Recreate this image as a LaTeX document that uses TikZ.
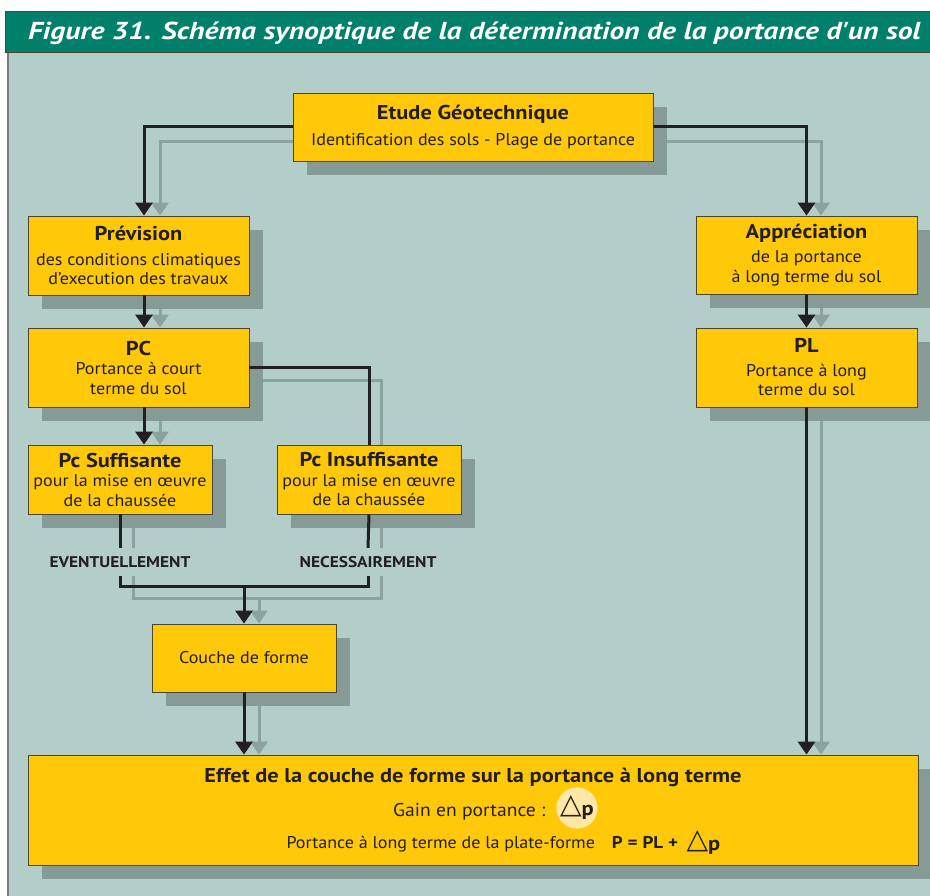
\documentclass[tikz,border=0pt]{standalone}
\usepackage{fontspec}
\setmainfont[FakeStretch=1.06, BoldFeatures={FakeStretch=1.12}]{PT Sans}
\newfontfamily\titrefont[FakeStretch=1.21]{PT Sans}
\newfontfamily\symbo{DejaVu Sans}
\usetikzlibrary{arrows.meta,shadows}

\definecolor{fond}{HTML}{B3CDC9}
\definecolor{vert}{HTML}{00806A}
\definecolor{jaune}{HTML}{FFC90A}
\definecolor{ombre}{HTML}{869A96}
\definecolor{ombrel}{HTML}{8CA29E}
\definecolor{trait}{HTML}{231F20}
\definecolor{cadre}{HTML}{4A4636}
\definecolor{bord}{HTML}{7A7A7A}
\definecolor{halo}{HTML}{FFE7A6}

\pgfdeclarelayer{fonds}
\pgfdeclarelayer{ombres}
\pgfsetlayers{fonds,ombres,main}

\tikzset{
  boite/.style={draw=cadre, line width=0.8pt, fill=jaune, text=trait, align=center,
    inner sep=0pt, font=\fontsize{17}{19.5}\selectfont,
    general shadow={fill=ombre, shadow xshift=14pt, shadow yshift=-14pt}},
  etiq/.style={text=trait, inner sep=0pt, minimum height=28pt,
    font=\fontsize{15.5}{18}\selectfont\bfseries},
  lien/.style={draw=trait, line width=3pt},
  lienombre/.style={draw=ombrel, line width=3pt},
  pointe/.style={-{Triangle[width=17pt,length=13pt]}},
  bandeau/.style={text=white, inner sep=0pt, font=\titrefont\fontsize{24.5}{28}\selectfont\bfseries\itshape}
}
\newcommand\titre[1]{{\fontsize{20}{23}\selectfont\bfseries #1}}
\newcommand\deltap{{\symbo\fontsize{28}{28}\selectfont △}\raisebox{-2pt}{\fontsize{20}{20}\selectfont\bfseries p}}

\begin{document}
\begin{tikzpicture}[x=1pt,y=-1pt]
\useasboundingbox (0,0) rectangle (930,896);
\begin{pgfonlayer}{fonds}
  \fill[white] (0,0) rectangle (930,896);
  \fill[fond] (7,52) rectangle (930,896);
  \draw[bord, line width=1.6pt] (7.8,52) -- (7.8,896);
  \filldraw[fill=vert, draw=cadre, line width=0.8pt] (5,11) rectangle (935,52);
\end{pgfonlayer}
\node[bandeau, anchor=base west] (titre) at (28,40) {Figure 31. Schéma synoptique de la détermination de la portance d'un sol};

% boites
\node[boite, minimum width=360pt, minimum height=68pt] (etude) at (473,127)
  {\titre{Etude Géotechnique}\\[6pt] Identification des sols - Plage de portance};
\node[boite, minimum width=221pt, minimum height=79pt] (prev) at (138.5,255.5)
  {\titre{Prévision}\\[5pt] des conditions climatiques\\ d'execution des travaux};
\node[boite, minimum width=221pt, minimum height=79pt] (pc) at (138.5,367.5)
  {\titre{PC}\\ Portance à court\\ terme du sol};
\node[boite, minimum width=184pt, minimum height=69pt] (suff) at (120,479.5)
  {\titre{Pc Suffisante}\\ pour la mise en œuvre\\ de la chaussée};
\node[boite, minimum width=184pt, minimum height=69pt] (insuff) at (369,479.5)
  {\titre{Pc Insuffisante}\\ pour la mise en œuvre\\ de la chaussée};
\node[boite, minimum width=184pt, minimum height=68pt] (couche) at (244,658) {Couche de forme};
\node[boite, minimum width=221pt, minimum height=78pt] (appr) at (806.5,255)
  {\titre{Appréciation}\\[5pt] de la portance\\ à long terme du sol};
\node[boite, minimum width=221pt, minimum height=79pt] (pl) at (806.5,367.5)
  {\titre{PL}\\[4pt] Portance à long\\ terme du sol};
\node[boite, minimum width=890pt, minimum height=110pt] (effet) at (473,810) {};

\node[etiq] (ev) at (120,562) {EVENTUELLEMENT};
\node[etiq] (nec) at (368,562) {NECESSAIREMENT};

% texte de la grande boite
\node[anchor=base, text=trait, font=\fontsize{20}{23}\selectfont\bfseries] (effet1) at (473,782)
  {Effet de la couche de forme sur la portance à long terme};
\node[anchor=base east, text=trait, font=\fontsize{18.5}{21}\selectfont] (gain) at (549,816) {Gain en portance :};
\node[circle, fill=halo, minimum size=40pt, inner sep=0pt, text=trait] (dp1) at (577,808) {\deltap};
\node[anchor=base west, text=trait, font=\fontsize{17}{20}\selectfont] (pf) at (283,848)
  {Portance à long terme de la plate-forme\quad{\bfseries\fontsize{17}{20}\selectfont P = PL +}\enspace\deltap};

\coordinate (colG) at (144,0);  % colonne gauche
\coordinate (colGo) at (160,0);
\coordinate (colSo) at (133,0);
\coordinate (colNo) at (381,0);
\coordinate (colCo) at (259,0);
\coordinate (colDo) at (821,0);
\coordinate (jn) at (244,586);  % jonction
\coordinate (jno) at (259,598);

% ombres des liens
\begin{pgfonlayer}{ombres}
\draw[lienombre, pointe] ([yshift=-15pt]etude.center) -| (prev.north -| colGo);
\draw[lienombre, pointe] ([yshift=-15pt]etude.center) -| (appr.north -| colDo);
\draw[lienombre, pointe] (prev.center -| colGo) -- (pc.north -| colGo);
\draw[lienombre, pointe] (pc.center -| colGo) -- (suff.north -| colGo);
\draw[lienombre] ([yshift=-13pt]pc.center) -| (insuff.north -| colNo);
\draw[lienombre] (suff.center -| colSo) -- (ev.north -| colSo);
\draw[lienombre] (insuff.center -| colNo) -- (nec.north -| colNo);
\draw[lienombre] (ev.south -| colSo) |- (jno) -| (nec.south -| colNo);
\draw[lienombre, pointe] (jno) -- (couche.north -| colCo);
\draw[lienombre, pointe] (couche.center -| colCo) -- (effet.north -| colCo);
\draw[lienombre, pointe] (appr.center -| colDo) -- (pl.north -| colDo);
\draw[lienombre, pointe] (pl.center -| colDo) -- (effet.north -| colDo);
\end{pgfonlayer}

% liens
\draw[lien, pointe] (etude.west) -| (prev.north -| colG);
\draw[lien, pointe] (etude.east) -| (appr.north);
\draw[lien, pointe] (prev.south -| colG) -- (pc.north -| colG);
\draw[lien, pointe] (pc.south -| colG) -- (suff.north -| colG);
\draw[lien] (pc.east) -| (insuff.north);
\draw[lien] (suff.south) -- (ev.north);
\draw[lien] (insuff.south) -- (nec.north);
\draw[lien] (ev.south) |- (jn) -| (nec.south);
\draw[lien, pointe] (jn) -- (couche.north);
\draw[lien, pointe] (couche.south) -- (effet.north -| couche.south);
\draw[lien, pointe] (appr.south) -- (pl.north);
\draw[lien, pointe] (pl.south) -- (effet.north -| pl.south);
\end{tikzpicture}
\end{document}
